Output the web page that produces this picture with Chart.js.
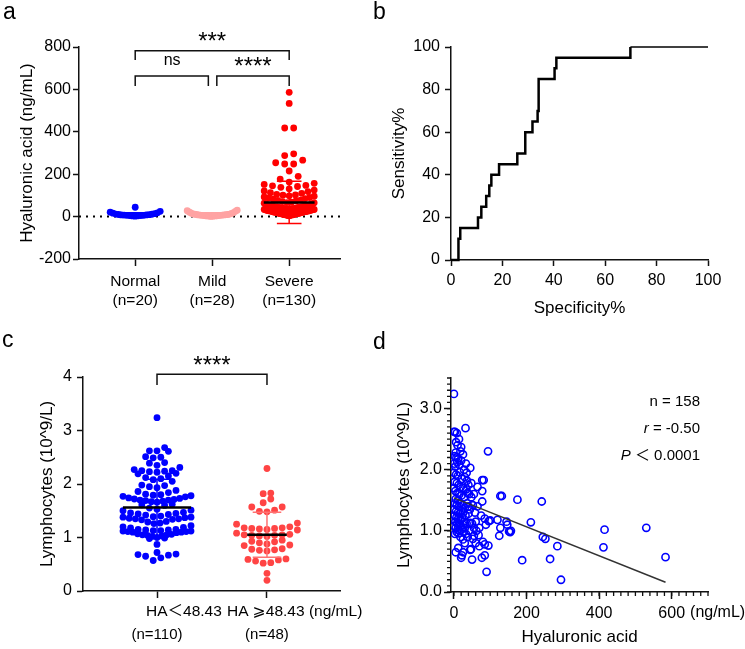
<!DOCTYPE html>
<html>
<head>
<meta charset="utf-8">
<title>Hyaluronic acid figure</title>
<script src="https://cdn.jsdelivr.net/npm/chart.js@4.4.1/dist/chart.umd.min.js"></script>
<style>
  body { margin: 0; background: #fff; }
  #fig { position: relative; width: 745px; height: 649px; overflow: hidden; font-family: "Liberation Sans", Arial, sans-serif; }
  #fig canvas { position: absolute; }
  .tag { position: absolute; font-size: 23px; line-height: 23px; color: #000; }
</style>
</head>
<body>
<div id="fig">
  <canvas id="chartA" width="372" height="320" style="left:0;top:0"></canvas>
  <canvas id="chartB" width="373" height="320" style="left:372px;top:0"></canvas>
  <canvas id="chartC" width="372" height="329" style="left:0;top:320px"></canvas>
  <canvas id="chartD" width="373" height="329" style="left:372px;top:320px"></canvas>
  <div class="tag" style="left:3px;top:0">a</div>
  <div class="tag" style="left:373px;top:0">b</div>
  <div class="tag" style="left:2px;top:328px">c</div>
  <div class="tag" style="left:373px;top:330px">d</div>
</div>
<script>
// ---- panel a: HA by severity ----
const groupsA = ['Normal', 'Mild', 'Severe'];
const countsA = ['(n=20)', '(n=28)', '(n=130)'];
const normalHA = [44, 2, 3, 4, 5, 5, 6, 6, 7, 8, 8, 9, 10, 11, 12, 14, 16, 18, 21, 25];
const mildHA = [1, 2, 2, 3, 3, 4, 4, 5, 5, 6, 6, 7, 7, 8, 8, 9, 10, 10, 11, 12, 13, 15, 17, 19, 22, 25, 28, 30];
const severeHA = [
  586, 534, 418, 418, 296, 288, 266, 254, 248, 248, 215, 190, 177,
  163, 157, 152, 147, 145, 142, 138,
  131, 125, 121, 118, 113, 110, 105, 102, 101, 98, 96,
  93, 90, 87, 85, 82, 78, 77, 74, 71, 68, 66, 65, 63, 61, 60,
  57, 55, 54, 52, 52, 50, 49, 47, 46, 45, 44, 42, 41, 40, 39, 38, 37, 36, 35, 35,
  34, 33, 32, 31, 30, 30, 29, 28, 27, 26, 25, 25, 24, 23, 22, 21, 20, 20, 19, 18,
  17, 16, 15, 15, 14, 13, 12, 12, 11, 10, 9, 9, 8, 7, 6, 6, 5, 4,
  43, 48, 53, 56, 38, 33, 27, 22, 17, 13, 10, 8, 31, 36, 41, 24, 19,
  51, 47, 44, 39, 34, 29, 26, 21, 14
];
const meanA = [10, 10, 67];
const sdA = [8, 8, 100];
const yTicksA = [-200, 0, 200, 400, 600, 800];

// ---- panel b: ROC ----
const rocSpec = [0, 2.9, 3.6, 10.5, 11.8, 13.7, 14.9, 15.7, 18.7, 25.8, 28.9, 31.7, 33.7, 34.1, 40.3, 41.0, 69.8, 100];
const rocSens = [0, 10, 15, 20, 25, 30, 35, 40, 45, 50, 60, 65, 70, 85, 90, 95, 100, 100];
const ticksB = [0, 20, 40, 60, 80, 100];

// ---- panel c: lymphocytes by HA cut-off ----
const groupsC = ['HA\uFF1C48.43', 'HA \u2A7E48.43 (ng/mL)'];
const countsC = ['(n=110)', '(n=48)'];
const lowHALym = [
  3.24, 2.68, 2.61, 2.62, 2.62, 2.49, 2.50, 2.51, 2.39, 2.40,
  2.31, 2.35, 2.22, 2.23, 2.24, 2.25, 2.25, 2.27, 2.20, 2.19,
  2.15, 2.05, 2.08, 2.10, 2.12, 1.93, 1.95, 1.97, 1.98, 1.84,
  1.86, 1.88, 1.76, 1.77, 1.78, 1.79, 1.80, 1.81, 1.66, 1.67,
  1.68, 1.69, 1.70, 1.70, 1.71, 1.72, 1.73, 1.74, 1.60, 1.61,
  1.62, 1.50, 1.51, 1.53, 1.55, 1.42, 1.43, 1.44, 1.45, 1.46,
  1.47, 1.33, 1.34, 1.35, 1.35, 1.36, 1.37, 1.38, 1.38, 1.39,
  1.40, 1.26, 1.27, 1.29, 1.30, 1.18, 1.19, 1.20, 1.22, 1.09,
  1.10, 1.10, 1.11, 1.12, 1.12, 1.13, 1.13, 1.14, 1.14, 1.15,
  1.15, 1.11, 1.00, 1.02, 1.03, 1.04, 1.05, 1.05, 1.06, 1.07,
  0.98, 0.99, 0.87, 0.72, 0.68, 0.65, 0.57, 0.62, 0.67, 0.69
];
const highHALym = [
  2.29, 1.83, 1.82, 1.72, 1.65, 1.57, 1.57, 1.51, 1.49, 1.48,
  1.27, 1.25, 1.20, 1.18, 1.18, 1.17, 1.17, 1.16, 1.15, 1.14,
  1.08, 1.06, 1.05, 1.05, 1.04, 1.04, 1.03, 1.02,
  0.95, 0.93, 0.92, 0.90, 0.88, 0.86, 0.85,
  0.79, 0.78, 0.77, 0.76, 0.75,
  0.60, 0.59, 0.58, 0.56, 0.53, 0.52, 0.33, 0.20
];
const meanC = [1.56, 1.05];
const sdC = [0.53, 0.42];
const yTicksC = [0, 1, 2, 3, 4];

// ---- panel d: HA vs lymphocytes ----
const dPoints = [
  [0, 2.62], [3, 2.62], [8, 2.6], [14, 2.5], [10, 2.4], [20, 2.37], [5, 2.28], [2, 2.22], [7, 2.2], [12, 2.18],
  [25, 2.25], [18, 2.3], [1, 2.1], [4, 2.05], [9, 2.12], [15, 2.08], [33, 2.1], [45, 2.03], [0, 1.95], [6, 1.92],
  [11, 1.9], [16, 1.96], [22, 1.85], [30, 1.88], [36, 1.82], [40, 1.75], [48, 1.78], [2, 1.8], [8, 1.78], [13, 1.75],
  [19, 1.72], [26, 1.7], [34, 1.68], [38, 1.62], [0, 1.7], [4, 1.65], [10, 1.62], [15, 1.6], [21, 1.58], [28, 1.55],
  [5, 1.52], [12, 1.5], [3, 1.45], [8, 1.42], [14, 1.4], [18, 1.45], [24, 1.42], [30, 1.38], [36, 1.45], [40, 1.4],
  [44, 1.35], [1, 1.35], [6, 1.32], [11, 1.3], [16, 1.28], [20, 1.33], [26, 1.3], [32, 1.25], [40, 1.28], [2, 1.25],
  [7, 1.22], [12, 1.2], [18, 1.18], [23, 1.22], [28, 1.15], [35, 1.12], [45, 1.13], [50, 1.12], [4, 1.15], [9, 1.12],
  [14, 1.1], [19, 1.08], [25, 1.1], [30, 1.05], [0, 1.08], [5, 1.05], [10, 1.02], [16, 1.0], [21, 1.02], [27, 0.98],
  [33, 0.95], [8, 0.98], [13, 0.96], [55, 1.05], [70, 1.05], [60, 1.15], [75, 1.25], [85, 1.2], [42, 1.6], [48, 1.55],
  [52, 1.42], [58, 1.3], [35, 1.95], [28, 2.0], [20, 2.15],
  [0, 3.24], [32, 2.68], [94, 2.3], [78, 1.83], [82, 1.83], [65, 1.72], [78, 1.65], [78, 1.48], [128, 1.57], [132, 1.57],
  [175, 1.51], [242, 1.48], [212, 1.14], [120, 1.18], [145, 1.15], [147, 1.1], [100, 1.17], [96, 1.16], [128, 1.05], [152, 0.99],
  [155, 0.98], [157, 1.0], [125, 0.92], [245, 0.9], [252, 0.87], [285, 0.75], [415, 1.02], [412, 0.73], [530, 1.05], [583, 0.57],
  [265, 0.54], [188, 0.52], [295, 0.2], [90, 0.33], [77, 0.56], [85, 0.6], [50, 0.53], [45, 0.69], [47, 0.7], [95, 0.76],
  [85, 0.78], [80, 0.82], [20, 0.56], [22, 0.6], [25, 0.65], [12, 0.72], [5, 0.65], [55, 0.92], [52, 0.87], [68, 0.93],
  [60, 0.8], [25, 0.86],
  [3, 0.95], [38, 0.9], [62, 1.0], [70, 0.75], [30, 0.8], [18, 0.9], [42, 1.0], [88, 1.1], [65, 1.4], [55, 1.6], [6, 2.45]
];
const fitLine = [[0, 1.54], [583, 0.16]];
const xTicksD = [0, 200, 400, 600];
const yTicksD = [0, 1, 2, 3];
const statsD = [
  [{ t: 'n = 158' }],
  [{ t: 'r', it: true }, { t: ' = -0.50' }],
  [{ t: 'P', it: true }, { t: ' \uFF1C 0.0001' }]
];

// ---- common setup ----
const FONT = '"Liberation Sans", Arial, "DejaVu Sans", "Noto Sans CJK SC", sans-serif';
Chart.defaults.font.family = FONT;
Chart.defaults.font.size = 16;
Chart.defaults.color = '#000';
Chart.defaults.animation = false;
Chart.defaults.responsive = false;
Chart.defaults.events = [];
Chart.defaults.plugins.legend.display = false;
Chart.defaults.plugins.tooltip.enabled = false;
const AX = '#111';

function polylines(list) {
  const out = [];
  list.forEach((pl, i) => {
    if (i) out.push({ x: pl[0][0], y: null });
    pl.forEach(p => out.push({ x: p[0], y: p[1] }));
  });
  return out;
}
function lineSet(list, color, width, order, extra) {
  return Object.assign({
    type: 'line', data: polylines(list), borderColor: color, borderWidth: width,
    pointRadius: 0, fill: false, spanGaps: false, tension: 0, order: order, clip: false,
    borderCapStyle: 'butt'
  }, extra || {});
}
function dotSet(values, center, color, r, order) {
  return {
    type: 'scatter', data: values.map(v => ({ x: center, y: v })), pointRadius: r,
    backgroundColor: color, borderWidth: 0, order: order, clip: false
  };
}
function meanSd(c, m, sd, half, cap) {
  return {
    mean: [[[c - half, m], [c + half, m]]],
    bar: [[[c, m - sd], [c, m + sd]], [[c - cap, m + sd], [c + cap, m + sd]], [[c - cap, m - sd], [c + cap, m - sd]]]
  };
}
function yAxis(o) {
  return {
    type: 'linear', position: 'left', min: o.min, max: o.max,
    afterBuildTicks: s => { s.ticks = o.ticks.map(v => ({ value: v })); },
    ticks: { padding: o.pad, font: { size: 16 }, callback: o.fmt || (v => String(v)) },
    grid: { drawOnChartArea: false, tickLength: o.tick || 6, tickColor: AX, tickWidth: 1.5 },
    border: { color: AX, width: 1.5 },
    title: { display: true, text: o.title, font: { size: 17 }, padding: { top: o.tpad, bottom: 0 } },
    afterFit: s => { s.width = o.width; }
  };
}
function xAxis(o) {
  return {
    type: 'linear', position: 'bottom', min: o.min, max: o.max,
    afterBuildTicks: s => { s.ticks = o.ticks.map(v => ({ value: v })); },
    ticks: { padding: o.pad, font: { size: o.fsize || 16, lineHeight: o.lh || 1.2 }, maxRotation: 0, autoSkip: false,
      callback: o.fmt || (v => String(v)) },
    grid: { drawOnChartArea: false, tickLength: o.tick || 6, tickColor: AX, tickWidth: 1.5 },
    border: { color: AX, width: 1.5 },
    title: { display: !!o.title, text: o.title || '', font: { size: 17 }, padding: { top: 0, bottom: o.tpad || 0 } },
    afterFit: s => { s.height = o.height; }
  };
}
// spread dots of one group sideways, row by row (lowest value in the middle)
function swarm(chart, dsIndex, values, center, rowPx, stepPx, halfPx) {
  const xs = chart.scales.x, ys = chart.scales.y;
  const cx = xs.getPixelForValue(center);
  const order = values.map((v, i) => i).sort((a, b) => values[a] - values[b]);
  const rows = [];
  let row = null, start = 0;
  order.forEach(i => {
    const py = ys.getPixelForValue(values[i]);
    if (!row || start - py > rowPx) { row = []; rows.push(row); start = py; }
    row.push(i);
  });
  const pts = values.map(v => ({ x: center, y: v }));
  rows.forEach(r => {
    const n = r.length;
    const step = n > 1 ? Math.min(stepPx, 2 * halfPx / (n - 1)) : 0;
    r.forEach((i, k) => {
      let slot;
      if (n % 2) slot = k === 0 ? 0 : Math.ceil(k / 2) * (k % 2 ? -1 : 1);
      else slot = (Math.floor(k / 2) + 0.5) * (k % 2 ? 1 : -1);
      pts[i].x = xs.getValueForPixel(cx + slot * step);
    });
  });
  chart.data.datasets[dsIndex].data = pts;
}
function notes(items) {
  return {
    id: 'notes',
    afterDraw(chart) {
      const { ctx, scales: { x, y }, chartArea } = chart;
      ctx.save();
      ctx.fillStyle = '#000';
      items.forEach(t => {
        const size = t.size || 15;
        const px = x.getPixelForValue(t.x) + (t.dx || 0);
        const py = t.below != null ? chartArea.bottom + t.below
          : y.getPixelForValue(t.y) + (t.star ? size * 0.22 : 0);
        ctx.font = size + 'px ' + FONT;
        ctx.textAlign = t.align || 'center';
        ctx.textBaseline = 'middle';
        ctx.fillText(t.text, px, py);
      });
      ctx.restore();
    }
  };
}

// ---- chart a ----
const xMinA = -0.73, xMaxA = 2.66;
const colorsA = ['#0000ff', '#ffa3a3', '#ff0000'];
const statsA = groupsA.map((g, i) => meanSd(i, meanA[i], sdA[i], i === 2 ? 0.33 : 0.3, 0.16));
const bracketsA = [
  [[0, 739], [0, 782], [2, 782], [2, 739]],
  [[0, 616], [0, 663], [0.95, 663], [0.95, 616]],
  [[1.06, 616], [1.06, 663], [2, 663], [2, 616]]
];
const chartA = new Chart(document.getElementById('chartA'), {
  type: 'scatter',
  data: {
    datasets: [
      lineSet([[[xMinA, 0], [xMaxA, 0]]], '#000', 2, 20, { borderDash: [2, 5] }),
      lineSet(statsA[0].bar, colorsA[0], 1.5, 15), lineSet(statsA[0].mean, '#000', 2.5, 14),
      lineSet(statsA[1].bar, colorsA[1], 1.5, 15), lineSet(statsA[1].mean, '#000', 2.5, 14),
      dotSet(normalHA, 0, colorsA[0], 3.4, 10),
      dotSet(mildHA, 1, colorsA[1], 3.4, 10),
      dotSet(severeHA, 2, colorsA[2], 3.4, 10),
      lineSet(statsA[2].bar, colorsA[2], 1.5, 3), lineSet(statsA[2].mean, '#000', 2.5, 2),
      lineSet(bracketsA, AX, 1.5, 1)
    ]
  },
  options: {
    layout: { padding: { left: 0, top: 47, right: 32, bottom: 0 } },
    scales: {
      x: xAxis({ min: xMinA, max: xMaxA, ticks: [0, 1, 2], tick: 7, pad: 6, height: 61, fsize: 15.5, lh: 1.25,
        fmt: v => [groupsA[v], countsA[v]] }),
      y: yAxis({ min: -200, max: 800, ticks: yTicksA, pad: 2, width: 79,
        title: 'Hyaluronic acid (ng/mL)', tpad: 17 })
    }
  },
  plugins: [notes([
    { text: '***', x: 1, y: 846, size: 24, star: true },
    { text: 'ns', x: 0.48, y: 734, size: 16 },
    { text: '****', x: 1.53, y: 728, size: 24, star: true }
  ])]
});
swarm(chartA, 5, normalHA, 0, 6.5, 9, 25);
swarm(chartA, 6, mildHA, 1, 6.5, 9, 25);
swarm(chartA, 7, severeHA, 2, 6.5, 9, 25);
chartA.update();

// ---- chart b ----
new Chart(document.getElementById('chartB'), {
  type: 'scatter',
  data: {
    datasets: [{
      type: 'line', data: rocSpec.map((s, i) => ({ x: s, y: rocSens[i] })),
      stepped: true, borderColor: '#000', borderWidth: 2.5, pointRadius: 0, fill: false, clip: false,
      segment: { borderWidth: c => (c.p0.parsed.x >= 69 ? 1.5 : 2.5) }
    }]
  },
  options: {
    layout: { padding: { left: 0, top: 47, right: 37, bottom: 0 } },
    scales: {
      x: xAxis({ min: 0, max: 100, ticks: ticksB, pad: 5, height: 60, title: 'Specificity%', tpad: 1 }),
      y: yAxis({ min: 0, max: 100, ticks: ticksB, pad: 5, width: 79, title: 'Sensitivity%', tpad: 17 })
    }
  }
});

// ---- chart c ----
const xMinC = -0.673, xMaxC = 1.664;
const colorsC = ['#0000ff', '#ff4444'];
const barColorsC = ['#0000ff', '#ff7272'];
const statsC = [meanSd(0, meanC[0], sdC[0], 0.31, 0.125), meanSd(1, meanC[1], sdC[1], 0.18, 0.13)];
const bracketC = [[[0, 3.85], [0, 4.05], [1, 4.05], [1, 3.85]]];
const labelShiftC = [-11, -40];
const chartC = new Chart(document.getElementById('chartC'), {
  type: 'scatter',
  data: {
    datasets: [
      dotSet(lowHALym, 0, colorsC[0], 3.4, 10),
      dotSet(highHALym, 1, colorsC[1], 3.4, 10),
      lineSet(statsC[0].bar, barColorsC[0], 1.5, 4), lineSet(statsC[0].mean, '#000', 2.5, 3),
      lineSet(statsC[1].bar, barColorsC[1], 1.5, 4), lineSet(statsC[1].mean, '#000', 2.5, 3),
      lineSet(bracketC, AX, 1.5, 1)
    ]
  },
  options: {
    layout: { padding: { left: 0, top: 57, right: 32, bottom: 0 } },
    scales: {
      x: xAxis({ min: xMinC, max: xMaxC, ticks: [0, 1], tick: 7, pad: 4, height: 58, fmt: () => '' }),
      y: yAxis({ min: 0, max: 4, ticks: yTicksC, pad: 5, width: 83,
        title: 'Lymphocytes (10^9/L)', tpad: 37 })
    }
  },
  plugins: [notes([
    { text: '****', x: 0.5, y: 4.29, size: 24, star: true },
    { text: groupsC[0], x: 0, dx: labelShiftC[0], below: 21, align: 'left', size: 15.5 },
    { text: groupsC[1], x: 1, dx: labelShiftC[1], below: 21, align: 'left', size: 15.5 },
    { text: countsC[0], x: 0, below: 44 },
    { text: countsC[1], x: 1, below: 44 }
  ])]
});
swarm(chartC, 0, lowHALym, 0, 6.5, 7.6, 34);
swarm(chartC, 1, highHALym, 1, 6.5, 7.6, 34);
chartC.update();

// ---- chart d ----
const minorTicksD = {
  id: 'minorTicks',
  afterDraw(chart) {
    const { ctx, scales: { x, y }, chartArea: a } = chart;
    ctx.save();
    ctx.strokeStyle = AX;
    ctx.lineWidth = 1.3;
    ctx.beginPath();
    for (let i = 0; i <= 35; i++) {
      const px = x.getPixelForValue(i * 20);
      ctx.moveTo(px, a.bottom); ctx.lineTo(px, a.bottom + 4);
      const py = y.getPixelForValue(i / 10);
      ctx.moveTo(a.left, py); ctx.lineTo(a.left - 4, py);
    }
    ctx.stroke();
    // unit after the last x label
    ctx.font = '16px ' + FONT;
    ctx.fillStyle = '#000';
    ctx.textBaseline = 'middle';
    ctx.textAlign = 'left';
    const last = xTicksD[xTicksD.length - 1];
    const w = ctx.measureText(String(last)).width;
    ctx.fillText('(ng/mL)', x.getPixelForValue(last) + w / 2 + 5, a.bottom + 21);
    // statistics, right aligned
    statsD.forEach((parts, r) => {
      let right = a.right - 8;
      const py = a.top + 24 + r * 26.7;
      for (let k = parts.length - 1; k >= 0; k--) {
        ctx.font = (parts[k].it ? 'italic ' : '') + '15px ' + FONT;
        ctx.textAlign = 'right';
        ctx.fillText(parts[k].t, right, py);
        right -= ctx.measureText(parts[k].t).width;
      }
    });
    ctx.restore();
  }
};
new Chart(document.getElementById('chartD'), {
  type: 'scatter',
  data: {
    datasets: [
      {
        type: 'scatter', data: dPoints.map(p => ({ x: p[0], y: p[1] })), pointRadius: 3.6,
        backgroundColor: 'rgba(0,0,0,0)', borderColor: '#0000ff', borderWidth: 1.6, order: 2
      },
      lineSet([fitLine], '#333', 1.5, 1)
    ]
  },
  options: {
    layout: { padding: { left: 0, top: 58, right: 37, bottom: 0 } },
    scales: {
      x: xAxis({ min: -8, max: 700, ticks: xTicksD, tick: 7, pad: 5, height: 57,
        title: 'Hyaluronic acid', tpad: 1 }),
      y: yAxis({ min: 0, max: 3.5, ticks: yTicksD, tick: 7, pad: 2, width: 79,
        title: 'Lymphocytes (10^9/L)', tpad: 22, fmt: v => v.toFixed(1) })
    }
  },
  plugins: [minorTicksD]
});
</script>
</body>
</html>
